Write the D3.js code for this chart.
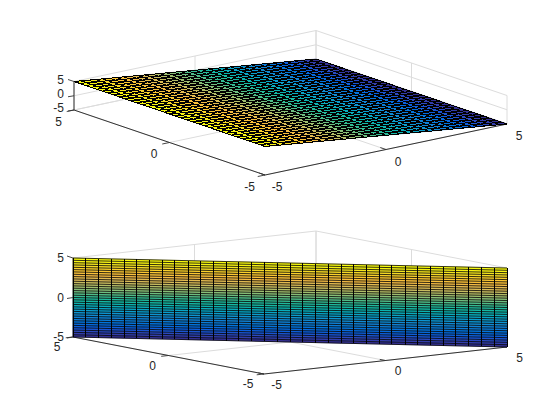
<!DOCTYPE html>
<html>
<head>
<meta charset="utf-8">
<style>html,body{margin:0;padding:0;background:#fff}svg{display:block}text{font-family:"Liberation Sans",Arial,sans-serif;font-size:12px;fill:#262626}</style>
<script src="https://cdn.jsdelivr.net/npm/d3@7"></script>
</head>
<body>
<svg id="chart" width="560" height="420"><defs><filter id="soft" x="-5%" y="-5%" width="110%" height="110%"><feGaussianBlur stdDeviation="0.32"/></filter></defs></svg>
<script>
// Mesh coordinates (34 cells per side)
const gridValues = [-5,-4.71,-4.41,-4.12,-3.82,-3.53,-3.24,-2.94,-2.65,-2.35,-2.06,-1.76,-1.47,-1.18,-0.88,-0.59,-0.29,0,0.29,0.59,0.88,1.18,1.47,1.76,2.06,2.35,2.65,2.94,3.24,3.53,3.82,4.12,4.41,4.71,5];
// Height of the tilted sheet along its x columns (top axes)
const sheetHeights = [5,4.71,4.41,4.12,3.82,3.53,3.24,2.94,2.65,2.35,2.06,1.76,1.47,1.18,0.88,0.59,0.29,0,-0.29,-0.59,-0.88,-1.18,-1.47,-1.76,-2.06,-2.35,-2.65,-2.94,-3.24,-3.53,-3.82,-4.12,-4.41,-4.71,-5];
// Height rows of the upright sheet (bottom axes)
const wallHeights = [-5,-4.71,-4.41,-4.12,-3.82,-3.53,-3.24,-2.94,-2.65,-2.35,-2.06,-1.76,-1.47,-1.18,-0.88,-0.59,-0.29,0,0.29,0.59,0.88,1.18,1.47,1.76,2.06,2.35,2.65,2.94,3.24,3.53,3.82,4.12,4.41,4.71,5];
const tickValues = [-5,0,5];
const tickLabels = ["-5","0","5"];
const domain = [-5,5];
const parulaStops = ["#352a87","#3145b9","#0f5cdd","#0072de","#1284d4","#0b9ad2","#07aac1","#0fb8a8","#39bc8f","#7abf7c","#a9bd6a","#d3bb5c","#f8bb43","#feca2f","#f4de24","#f9fb0e"];

const color = d3.scaleQuantize().domain(domain).range(d3.range(64).map(i => {
  const t = i/63*(parulaStops.length-1), k = Math.min(Math.floor(t), parulaStops.length-2);
  return d3.interpolateRgb(parulaStops[k], parulaStops[k+1])(t-k);
}));

const svg = d3.select("#chart");

function projector(front, right, left, zRise){
  const xH = d3.scaleLinear().domain(domain).range([front[0], right[0]]);
  const xV = d3.scaleLinear().domain(domain).range([front[1], right[1]]);
  const yH = d3.scaleLinear().domain(domain).range([0, left[0]-front[0]]);
  const yV = d3.scaleLinear().domain(domain).range([0, left[1]-front[1]]);
  const zV = d3.scaleLinear().domain(domain).range([0, -zRise]);
  return (x,y,z) => [xH(x)+yH(y), xV(x)+yV(y)+zV(z)];
}

function drawFrame(g, P){
  const grid = "#dcdcdc";
  const seg = (a,b) => g.append("line").attr("x1",a[0]).attr("y1",a[1]).attr("x2",b[0]).attr("y2",b[1]).attr("stroke",grid).attr("stroke-width",1);
  tickValues.forEach(t => {
    seg(P(t,-5,-5),P(t,5,-5));
    seg(P(-5,t,-5),P(5,t,-5));
    seg(P(t,5,-5),P(t,5,5));
    seg(P(-5,5,t),P(5,5,t));
    seg(P(5,t,-5),P(5,t,5));
    seg(P(5,-5,t),P(5,5,t));
  });
}

function drawAxes(g, P, off){
  const axis = "#333333";
  const seg = (a,b,w) => g.append("line").attr("x1",a[0]).attr("y1",a[1]).attr("x2",b[0]).attr("y2",b[1]).attr("stroke",axis).attr("stroke-width",w);
  seg(P(-5,-5,-5),P(5,-5,-5),1);
  seg(P(-5,-5,-5),P(-5,5,-5),1);
  seg(P(-5,5,-5),P(-5,5,5),1);
  const label = (p,dx,dy,s,anchor) => g.append("text").attr("x",p[0]+dx).attr("y",p[1]+dy).attr("dy","0.36em").attr("text-anchor",anchor).text(s);
  tickValues.forEach((t,i) => {
    const ax = P(t,-5,-5), ay = P(-5,t,-5), az = P(-5,5,t);
    const ox = P(t,-5.3,-5), oy = P(-5.3,t,-5);
    seg(ax,[2*ax[0]-ox[0], 2*ax[1]-ox[1]],0.9);
    seg(ay,oy,0.9);
    seg(az,[az[0]-6, az[1]+(t===5?-2:1)],0.9);
    label(ax,off.x[0],off.x[1],tickLabels[i],"middle");
    label(ay,off.y[0],off.y[1],tickLabels[i],"middle");
    label([64,az[1]],0,off.z,tickLabels[i],"end");
  });
}

function drawCells(g, cells, meshLines, P, soft){
  const path = q => d3.line()(q.pts.map(v => P(v[0],v[1],v[2])));
  g.append("g").selectAll("path").data(cells).join("path")
    .attr("d", c => d3.line()(c.corners.map(v => P(v[0],v[1],v[2])))+"Z")
    .attr("fill", c => color(c.value))
    .attr("stroke", c => color(c.value))
    .attr("stroke-width", 0.4);
  const mesh = g.append("g");
  if (soft) mesh.attr("filter", "url(#soft)");
  mesh.selectAll("path").data(meshLines).join("path")
    .attr("d", path)
    .attr("fill", "none")
    .attr("stroke", "#000")
    .attr("stroke-width", d => d.w)
    .attr("shape-rendering", d => d.crisp ? "crispEdges" : "auto");
}

const n = gridValues.length;
// top axes: surface tilted along x
const topCells = [], topLines = [];
d3.range(n-1).forEach(i => d3.range(n-1).forEach(j => {
  const x0=gridValues[i], x1=gridValues[i+1], y0=gridValues[j], y1=gridValues[j+1];
  topCells.push({value: sheetHeights[i], corners:[[x0,y0,sheetHeights[i]],[x1,y0,sheetHeights[i+1]],[x1,y1,sheetHeights[i+1]],[x0,y1,sheetHeights[i]]]});
}));
d3.range(n).forEach(i => {
  topLines.push({w:1, crisp:true, pts:[[gridValues[i],-5,sheetHeights[i]],[gridValues[i],5,sheetHeights[i]]]});
  topLines.push({w:1, crisp:true, pts:[[-5,gridValues[i],5],[5,gridValues[i],-5]]});
});
// bottom axes: upright sheet across the floor diagonal
const botCells = [], botLines = [];
d3.range(n-1).forEach(i => d3.range(n-1).forEach(k => {
  const x0=gridValues[i], x1=gridValues[i+1];
  botCells.push({value: wallHeights[k+1]-0.001, corners:[[x0,-x0,wallHeights[k]],[x1,-x1,wallHeights[k]],[x1,-x1,wallHeights[k+1]],[x0,-x0,wallHeights[k+1]]]});
}));
d3.range(n).forEach(i => {
  botLines.push({w:1, crisp:true, pts:[[gridValues[i],-gridValues[i],-5],[gridValues[i],-gridValues[i],5]]});
  botLines.push({w:0.8, pts:[[-5,5,wallHeights[i]],[5,-5,wallHeights[i]]]});
});

const topP = projector([265,175],[507,124],[74,110],28.5);
const botP = projector([264,374],[507,347],[73,337],79);

const gt = svg.append("g"), gb = svg.append("g");
drawFrame(gt, topP); drawAxes(gt.append("g"), topP, {x:[12,12], y:[-15.5,11.5], z:-2}); drawCells(gt.append("g"), topCells, topLines, topP, true);
drawFrame(gb, botP); drawAxes(gb.append("g"), botP, {x:[12.5,10.5], y:[-16,10], z:0}); drawCells(gb.append("g"), botCells, botLines, botP, false);
</script>
</body>
</html>
